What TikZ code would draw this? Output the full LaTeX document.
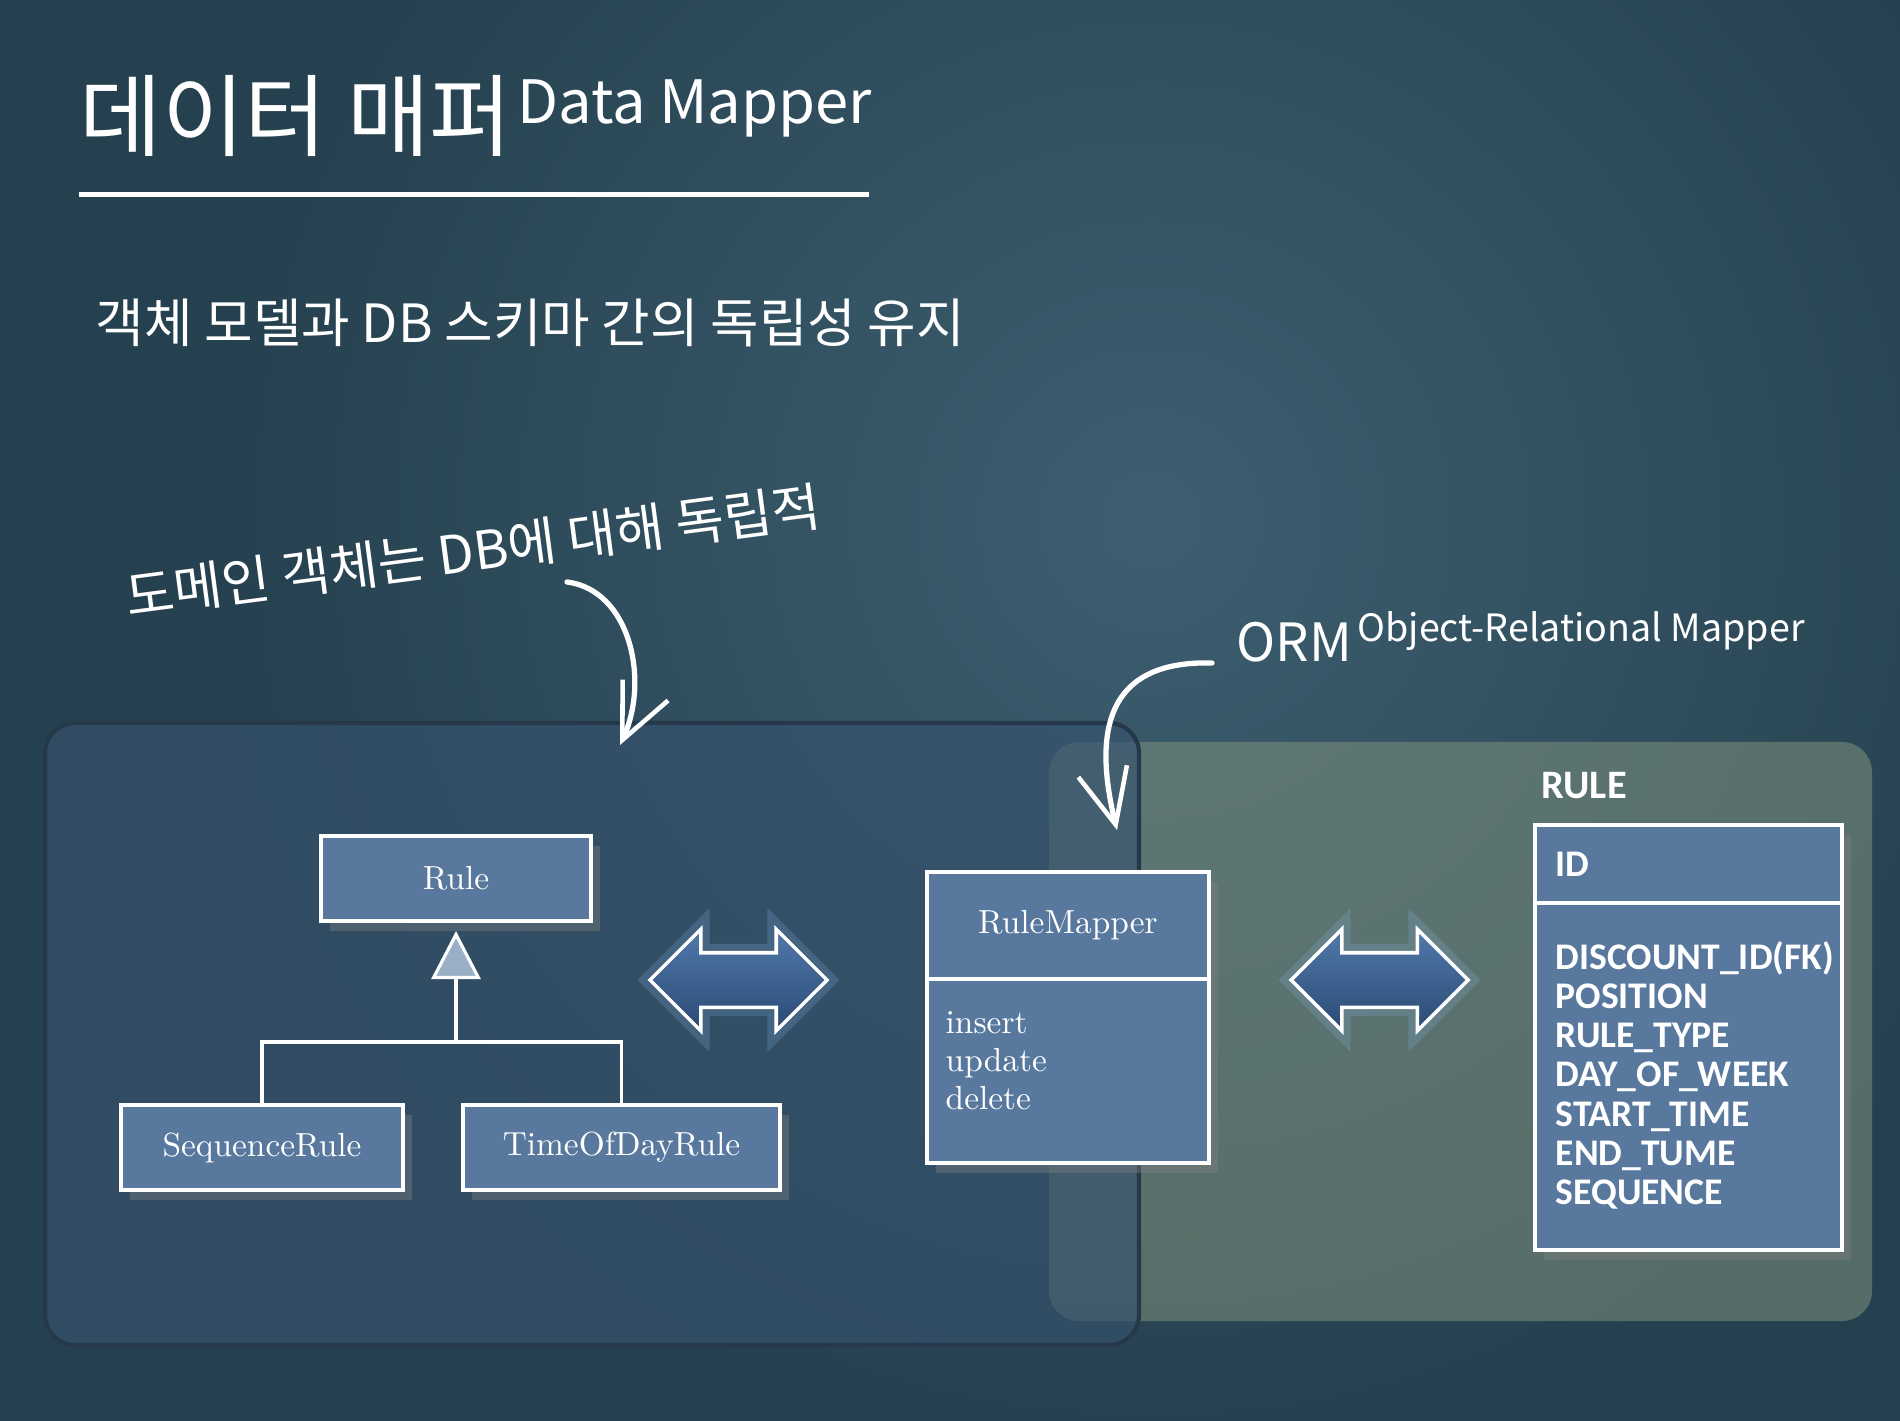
\documentclass[tikz,border=0pt]{standalone}
\usepackage{fontspec}
\newfontfamily\hangul{Noto Sans CJK KR}
\newfontfamily\dbfont{Carlito}
\usetikzlibrary{positioning,arrows.meta,shapes.arrows,shadows}

\definecolor{fondo}{HTML}{25404E}
\definecolor{fondoclaro}{HTML}{3D5F70}
\definecolor{azulcaja}{HTML}{58789E}
\definecolor{triangulo}{HTML}{9AAFC5}
\definecolor{panelazul}{HTML}{36526E}
\definecolor{bordeazul}{HTML}{26394B}
\definecolor{panelverde}{HTML}{7F917E}
\definecolor{flechaclaro}{HTML}{5079AB}
\definecolor{flechaoscura}{HTML}{2B4A74}
\definecolor{brillo}{HTML}{86B4E4}

\begin{document}
\begin{tikzpicture}[
    clase/.style={draw=white, line width=0.9pt, fill=azulcaja, text=white,
      inner sep=0pt, outer sep=0pt, font=\fontsize{9.5}{11}\selectfont,
      drop shadow={shadow xshift=0.09cm, shadow yshift=-0.1cm, opacity=0.4}},
    textodb/.style={text=white, inner sep=0pt, font=\dbfont\bfseries\fontsize{10.7}{13}\selectfont},
    mano/.style={text=white, inner sep=0pt, font=\hangul\fontsize{15}{17}\selectfont},
    curva/.style={draw=white, line width=1.5pt, line cap=round,
      -{Straight Barb[length=0.55cm, width=0.5cm, line width=1.3pt]}},
    herencia/.style={draw=white, line width=0.9pt},
    dflecha/.style={double arrow, double arrow tip angle=90,
      double arrow head extend=0.235cm, minimum width=0.98cm, minimum height=1.77cm,
      inner xsep=0pt, inner ysep=0.255cm, draw=white, line width=1pt,
      top color=flechaclaro, bottom color=flechaoscura,
      preaction={draw=brillo, line width=5pt, opacity=0.22}}
  ]
  % Fondo de pizarra
  \useasboundingbox (0,0) rectangle (19,14.2);
  \fill[fondo] (-0.3,-0.3) rectangle (19.3,14.5);
  \shade[inner color=fondoclaro, outer color=fondo] (11.5,9) circle (9.5);

  % Titulo y subtitulo
  \node[mano, anchor=base west, font=\hangul\fontsize{25.5}{28}\selectfont] (titulo) at (0.79,12.70) {데이터 매퍼};
  \node[mano, anchor=base west, font=\hangul\fontsize{17}{20}\selectfont] (tituloen) at ([xshift=0.04cm, yshift=0.26cm]titulo.base east) {Data Mapper};
  \draw[white, line width=0.05cm] (0.79,12.25) -- (8.69,12.25);
  \node[mano, anchor=base west] (lema) at (0.95,10.77) {객체 모델과 DB 스키마 간의 독립성 유지};

  % Paneles: base de datos y dominio
  \fill[panelverde, fill opacity=0.55, rounded corners=0.3cm] (10.49,0.99) rectangle (18.72,6.78);
  \draw[fill=panelazul, fill opacity=0.65, draw=bordeazul, line width=1.2pt, rounded corners=0.3cm] (0.45,0.75) rectangle (11.39,6.97);

  % Clases del dominio
  \node[clase, minimum width=2.70cm, minimum height=0.85cm] (rule) at (4.56,5.415) {Rule};
  \node[clase, minimum width=2.82cm, minimum height=0.85cm] (seq) at (2.62,2.725) {SequenceRule};
  \node[clase, minimum width=3.17cm, minimum height=0.85cm] (tod) at (6.215,2.725) {TimeOfDayRule};

  % Herencia
  \path ([yshift=0.63cm]seq.north) coordinate (barra);
  \coordinate (union) at (barra -| rule.south);
  \draw[herencia] (seq.north) |- (barra) -| (tod.north);
  \draw[herencia, -{Triangle[length=0.48cm, width=0.49cm, fill=triangulo]}] (union) -- ([yshift=-0.1cm]rule.south);

  % Mapper
  \node[clase, minimum width=2.82cm, minimum height=1.07cm] (mapnombre) at (10.68,4.945) {RuleMapper};
  \node[clase, minimum width=2.82cm, minimum height=1.84cm, below=0pt of mapnombre] (mapops) {};
  \foreach \op [count=\i] in {insert, update, delete}
    \node[text=white, inner sep=0pt, anchor=base west, font=\fontsize{9.5}{11}\selectfont] (op\i)
      at ([xshift=0.18cm, yshift={-0.16cm-\i*0.38cm}]mapops.north west) {\op};

  % Tabla RULE
  \node[clase, minimum width=3.07cm, minimum height=0.78cm] (tid) at (16.885,5.56) {};
  \node[clase, minimum width=3.07cm, minimum height=3.47cm, below=0pt of tid] (tcols) {};
  \node[textodb, anchor=west] (idtxt) at ([xshift=0.2cm]tid.west) {ID};
  \node[textodb, anchor=base west, font=\dbfont\bfseries\fontsize{11.5}{14}\selectfont] (nomtabla)
    at ([xshift=0.06cm, yshift=0.26cm]tid.north west) {RULE};
  \foreach \col [count=\i] in {DISCOUNT\_ID(FK), POSITION, RULE\_TYPE, DAY\_OF\_WEEK, START\_TIME, END\_TUME, SEQUENCE}
    \node[textodb, anchor=base west] (col\i)
      at ([xshift=0.2cm, yshift={-0.267cm-\i*0.393cm}]tcols.north west) {\col};

  % Flechas dobles
  \node[dflecha] (dobleuno) at (7.385,4.40) {};
  \node[dflecha] (dobledos) at (13.795,4.40) {};

  % Notas a mano con flechas curvas
  \node[mano, rotate=7.5] (dominio) at (4.73,8.69) {도메인 객체는 DB에 대해 독립적};
  \coordinate (c1ini) at (5.67,8.38);
  \coordinate (c1fin) at (6.20,6.75);
  \draw[curva] (c1ini) .. controls (6.3,8.3) and (6.5,7.4) .. (c1fin);

  \node[mano, anchor=base west, font=\hangul\fontsize{15}{18}\selectfont] (orm) at (12.36,7.58) {ORM};
  \node[mano, anchor=base west, font=\hangul\fontsize{10.7}{13}\selectfont] (ormen) at ([xshift=0.04cm, yshift=0.2cm]orm.base east) {Object-Relational Mapper};
  \coordinate (c2ini) at (12.12,7.57);
  \coordinate (c2fin) at (11.17,5.90);
  \draw[curva] (c2ini) .. controls (11.0,7.6) and (10.95,6.8) .. (c2fin);
\end{tikzpicture}
\end{document}
